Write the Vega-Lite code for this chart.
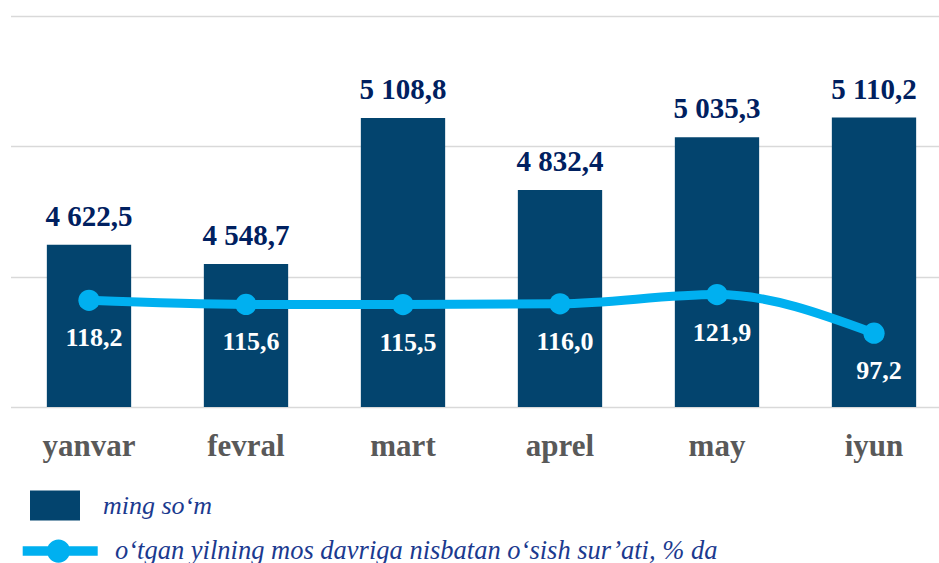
{
  "$schema": "https://vega.github.io/schema/vega-lite/v6.json",
  "autosize": "none",
  "width": 928.5,
  "height": 391,
  "padding": {"left": 10.5, "top": 16, "right": 0, "bottom": 156},
  "background": "white",
  "config": {"view": {"stroke": null}, "font": "Liberation Serif"},
  "data": {
    "values": [
      {"month": "yanvar", "value": 4622.5, "valueLabel": "4 622,5", "rate": 118.2, "rateLabel": "118,2"},
      {"month": "fevral", "value": 4548.7, "valueLabel": "4 548,7", "rate": 115.6, "rateLabel": "115,6"},
      {"month": "mart", "value": 5108.8, "valueLabel": "5 108,8", "rate": 115.5, "rateLabel": "115,5"},
      {"month": "aprel", "value": 4832.4, "valueLabel": "4 832,4", "rate": 116.0, "rateLabel": "116,0"},
      {"month": "may", "value": 5035.3, "valueLabel": "5 035,3", "rate": 121.9, "rateLabel": "121,9"},
      {"month": "iyun", "value": 5110.2, "valueLabel": "5 110,2", "rate": 97.2, "rateLabel": "97,2"}
    ]
  },
  "encoding": {
    "x": {
      "field": "month",
      "type": "nominal",
      "sort": null,
      "scale": {"range": [0, 942], "paddingInner": 0.463, "paddingOuter": 0.2315},
      "axis": {
        "title": null,
        "labelAngle": 0,
        "domain": false,
        "ticks": false,
        "tickSize": 0,
        "labelPadding": 24.5,
        "labelFont": "Liberation Serif",
        "labelFontSize": 31,
        "labelFontWeight": "bold",
        "labelColor": "#595959",
        "grid": false
      }
    }
  },
  "layer": [
    {
      "mark": {"type": "bar", "clip": true},
      "encoding": {
        "y": {
          "field": "value",
          "type": "quantitative",
          "scale": {"domain": [4000, 5500], "zero": false, "nice": false},
          "axis": {
            "title": null,
            "values": [4000, 4500, 5000, 5500],
            "grid": true,
            "gridColor": "#D9D9D9",
            "gridWidth": 1.5,
            "domain": false,
            "ticks": false,
            "labels": false
          }
        },
        "fill": {
          "datum": "ming so‘m",
          "scale": {"range": ["#03446E"]},
          "legend": {
            "orient": "none",
            "legendX": 19.5,
            "legendY": 464.5,
            "title": null,
            "padding": 0,
            "symbolType": "M-1,-0.6H1V0.6H-1Z",
            "symbolSize": 2500,
            "symbolStrokeWidth": 0,
            "symbolOpacity": 1,
            "labelFont": "Liberation Serif",
            "labelFontStyle": "italic",
            "labelFontSize": 26,
            "labelColor": "#1B3A8F",
            "labelOffset": 23,
            "labelLimit": 900
          }
        }
      }
    },
    {
      "mark": {"type": "text", "font": "Liberation Serif", "fontWeight": "bold", "fontSize": 29, "color": "#002060", "baseline": "alphabetic", "dy": -19},
      "encoding": {
        "y": {"field": "value", "type": "quantitative", "scale": {"domain": [4000, 5500], "zero": false, "nice": false}, "axis": null},
        "text": {"field": "valueLabel"}
      }
    },
    {
      "mark": {"type": "line", "color": "#00B0F0", "strokeWidth": 9, "interpolate": "monotone"},
      "encoding": {
        "y": {"field": "rate", "type": "quantitative", "scale": {"domain": [50, 300], "zero": false, "nice": false}, "axis": null}
      }
    },
    {
      "mark": {"type": "point", "filled": true, "size": 452, "opacity": 1},
      "encoding": {
        "y": {"field": "rate", "type": "quantitative", "scale": {"domain": [50, 300], "zero": false, "nice": false}, "axis": null},
        "color": {
          "datum": "o‘tgan yilning mos davriga nisbatan o‘sish sur’ati, % da",
          "scale": {"range": ["#00B0F0"]},
          "legend": {
            "orient": "none",
            "legendX": 12.2,
            "legendY": 497.5,
            "title": null,
            "padding": 0,
            "symbolType": "M-1,-0.125H1V0.125H-1Z M0.265,0A0.31,0.31 0 1,1 -0.355,0A0.31,0.31 0 1,1 0.265,0Z",
            "symbolSize": 5625,
            "symbolStrokeWidth": 0,
            "symbolOpacity": 1,
            "labelFont": "Liberation Serif",
            "labelFontStyle": "italic",
            "labelFontSize": 26.5,
            "labelColor": "#1B3A8F",
            "labelOffset": 17.3,
            "labelLimit": 900
          }
        }
      }
    },
    {
      "mark": {"type": "text", "font": "Liberation Serif", "fontWeight": "bold", "fontSize": 26, "color": "white", "baseline": "alphabetic", "dy": 46, "dx": 5},
      "encoding": {
        "y": {"field": "rate", "type": "quantitative", "scale": {"domain": [50, 300], "zero": false, "nice": false}, "axis": null},
        "text": {"field": "rateLabel"}
      }
    }
  ],
  "resolve": {"scale": {"y": "independent"}}
}
